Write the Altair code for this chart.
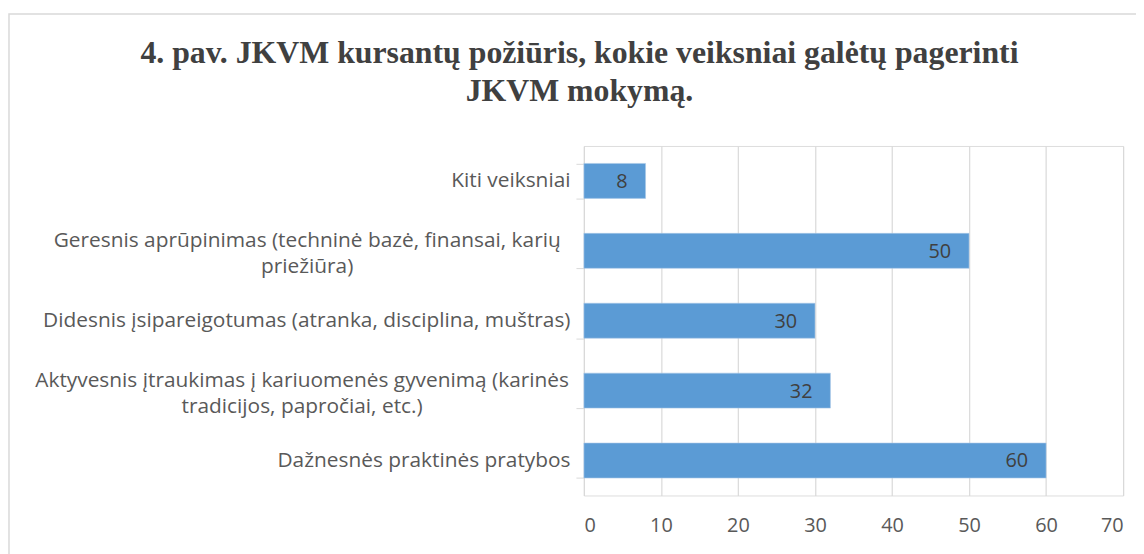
import altair as alt
import pandas as pd

categories = [
    "Kiti veiksniai",
    "Geresnis aprūpinimas (techninė bazė, finansai, karių\npriežiūra)",
    "Didesnis įsipareigotumas (atranka, disciplina, muštras)",
    "Aktyvesnis įtraukimas į kariuomenės gyvenimą (karinės\ntradicijos, papročiai, etc.)",
    "Dažnesnės praktinės pratybos",
]
values = [8, 50, 30, 32, 60]
x_ticks = [0, 10, 20, 30, 40, 50, 60, 70]
title_lines = [
    "4. pav. JKVM kursantų požiūris, kokie veiksniai galėtų pagerinti",
    "JKVM mokymą.",
]

df = pd.DataFrame({"cat": categories, "val": values})

LABEL_FONT = "Open Sans"

multi = "isValid(datum.value) && indexof(datum.value, '\\n') >= 0"
first_line = "split(datum.value, '\\n')[0]"

base = alt.Chart(df)

y_enc = alt.Y(
    "cat:N",
    sort=categories,
    title=None,
    scale=alt.Scale(paddingInner=0.5, paddingOuter=0.25),
    axis=alt.Axis(
        labelExpr="isValid(datum.value) ? split(datum.value, '\\n') : ''",
        labelFont=LABEL_FONT,
        labelFontSize=21,
        labelColor="#595959",
        labelLineHeight=26,
        labelAlign={"expr": f"{multi} ? 'center' : 'right'"},
        labelPadding={"expr": f"{multi} ? 6 + length({first_line}) * 5.1 : 6"},
        labelLimit=700,
        labelOffset={"expr": f"{multi} ? -10 : 0"},
        tickBand="extent",
        tickSize=8,
        tickColor="#d9d9d9",
        domainColor="#d9d9d9",
        grid=False,
    ),
)

x_enc = alt.X(
    "val:Q",
    title=None,
    scale=alt.Scale(domain=[0, 70], nice=False),
    axis=alt.Axis(
        values=x_ticks,
        labelFont=LABEL_FONT,
        labelFontSize=20,
        labelColor="#595959",
        labelPadding=20,
        domain=False,
        ticks=False,
        grid=True,
        gridColor="#d9d9d9",
        gridWidth=1.2,
    ),
)

bars = base.mark_bar(color="#5B9BD5", stroke="#a9c8e8", strokeWidth=0.6).encode(
    y=y_enc, x=x_enc
)

labels = base.mark_text(
    align="right", baseline="middle", dx=-18, dy=1,
    font=LABEL_FONT, fontSize=20, color="#404040"
).encode(
    y=alt.Y("cat:N", sort=categories),
    x=alt.X("val:Q"),
    text=alt.Text("val:Q"),
)

frame = alt.Chart(alt.Data(values=[{"f": 1}])).mark_rect(
    filled=False, stroke="#d9d9d9", strokeWidth=1.5
).encode(
    x=alt.value(-579), x2=alt.value(600), y=alt.value(-133), y2=alt.value(450)
)

chart = alt.layer(frame, bars, labels).properties(
    width=543,
    height=352,
    title=alt.Title(
        title_lines,
        font="Liberation Serif",
        fontSize=32,
        fontWeight="bold",
        color="#404040",
        anchor="middle",
        frame="group",
        dx=-276,
        dy=95,
        lineHeight=38,
        offset=0,
    ),
    autosize=alt.AutoSizeParams(type="none"),
    padding={"left": 580, "top": 137, "right": 13, "bottom": 57},
).configure_view(stroke=None).configure(background="white")

chart.save("out.html", embed_options={"renderer": "svg", "actions": False})
